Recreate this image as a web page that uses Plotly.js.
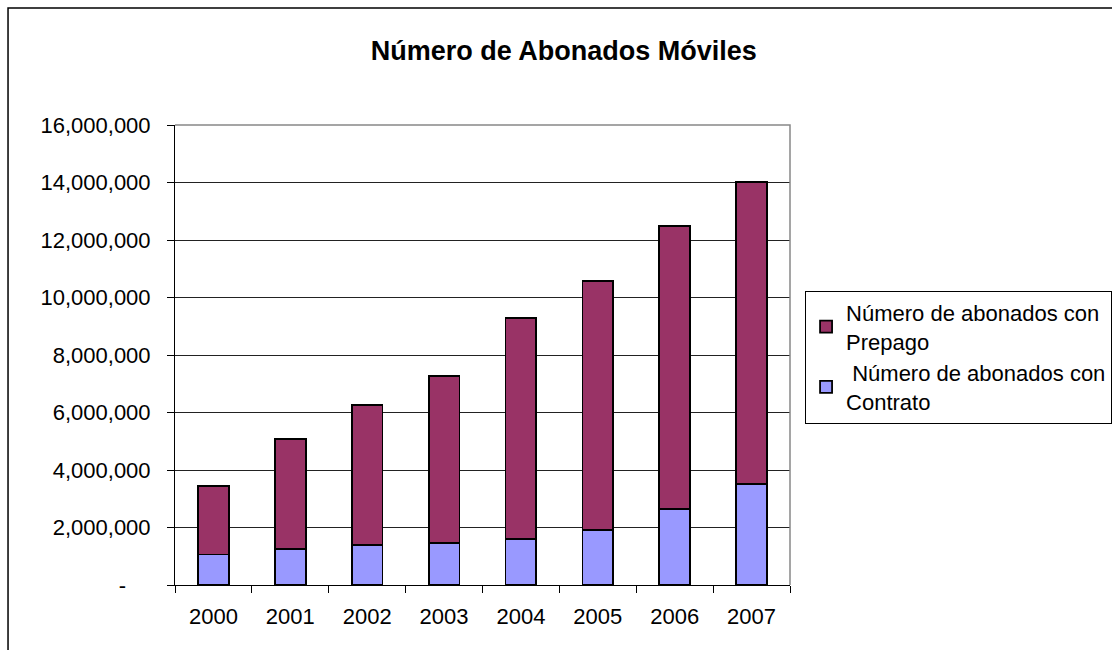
<!DOCTYPE html>
<html>
<head>
<meta charset="utf-8">
<script src="https://cdn.plot.ly/plotly-3.0.1.min.js"></script>
<style>html,body{margin:0;padding:0;background:#fff;}#chart{width:1112px;height:650px;}</style>
</head>
<body>
<div id="chart"></div>
<script>
const years = ["2000", "2001", "2002", "2003", "2004", "2005", "2006", "2007"];
const contrato = [1060000, 1260000, 1380000, 1460000, 1590000, 1900000, 2650000, 3500000];
const prepago = [2370000, 3830000, 4870000, 5800000, 7700000, 8670000, 9840000, 10510000];
const yTickVals = [0, 2000000, 4000000, 6000000, 8000000, 10000000, 12000000, 14000000, 16000000];
const yTickText = ["-\u00a0\u00a0\u00a0\u00a0", "2,000,000", "4,000,000", "6,000,000", "8,000,000", "10,000,000", "12,000,000", "14,000,000", "16,000,000"];
const nameContrato = "\u00a0Número de abonados con<br>Contrato";
const namePrepago = "Número de abonados con<br>Prepago";

const font = "Liberation Sans, Arial, sans-serif";
const traces = [
  {type: "bar", x: years, y: contrato, name: nameContrato,
   marker: {color: "#9999FF", line: {color: "#000", width: 1.8}}},
  {type: "bar", x: years, y: prepago, name: namePrepago,
   marker: {color: "#993366", line: {color: "#000", width: 1.8}}}
];
const layout = {
  width: 1112, height: 650,
  margin: {l: 175, r: 322, t: 125, b: 65, autoexpand: false},
  paper_bgcolor: "#fff", plot_bgcolor: "#fff",
  barmode: "stack", bargap: 0.6,
  font: {family: font, color: "#000", size: 22},
  title: {text: "<b>Número de Abonados Móviles</b>", font: {family: font, size: 27, color: "#000"},
          x: 0.632, xref: "paper", xanchor: "center", y: 0.923, yref: "container", yanchor: "middle"},
  xaxis: {type: "category", tickson: "boundaries", ticks: "outside", ticklen: 7, tickcolor: "#000",
          showline: true, linecolor: "#000", linewidth: 1, showgrid: false,
          tickfont: {family: font, size: 22, color: "#000"}, ticklabelstandoff: 12},
  yaxis: {range: [0, 16000000], tickvals: yTickVals, ticktext: yTickText, ticks: "outside", ticklen: 7,
          tickcolor: "#000", showline: true, linecolor: "#000", linewidth: 1,
          showgrid: true, gridcolor: "#222", gridwidth: 1, zeroline: false,
          tickfont: {family: font, size: 22, color: "#000"}, ticklabelstandoff: 12},
  legend: {x: 1.0245, y: 0.64, xanchor: "left", yanchor: "top", traceorder: "reversed",
           itemwidth: 30, bordercolor: "#000", borderwidth: 1, bgcolor: "#fff",
           font: {family: font, size: 22, color: "#000"}},
  shapes: [
    {type: "path", xref: "paper", yref: "paper", path: "M0,1 L1,1 L1,0", line: {color: "#888", width: 1.5}, layer: "above"},
    {type: "rect", xref: "paper", yref: "paper", x0: -0.2715, x1: 1.54, y0: -0.17, y1: 1.2543, line: {color: "#000", width: 1.5}}
  ]
};
Plotly.newPlot("chart", traces, layout, {displayModeBar: false, staticPlot: true});
</script>
</body>
</html>
